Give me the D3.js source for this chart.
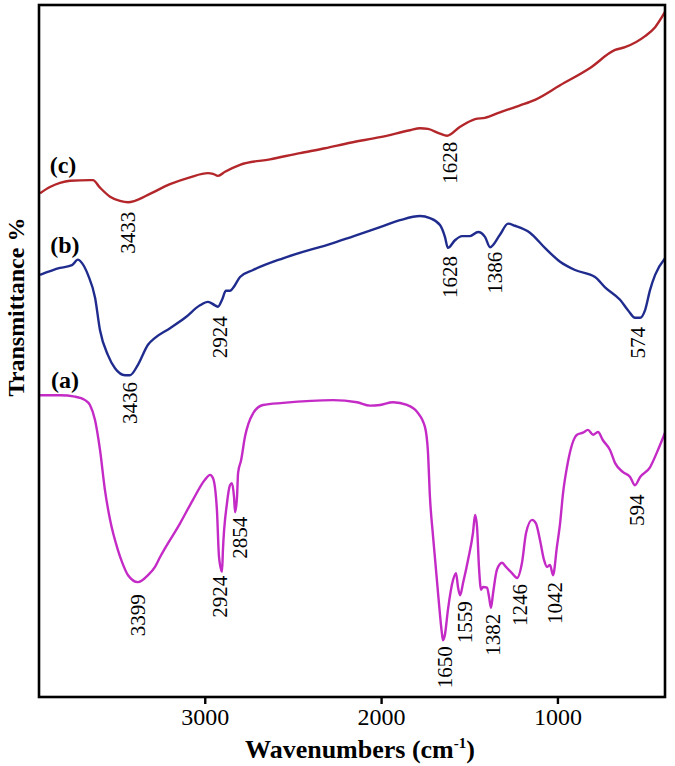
<!DOCTYPE html>
<html>
<head>
<meta charset="utf-8">
<script src="https://cdn.jsdelivr.net/npm/d3@7"></script>
<style>
  body { margin: 0; background: #fff; }
  svg { display: block; font-family: "Liberation Serif", "Times New Roman", serif; }
</style>
</head>
<body>
<svg id="chart" width="675" height="766"></svg>
<script>
// FTIR spectra, values: [wavenumber cm-1, transmittance %]
var seriesA = [
  [3934,43.6],[3821,43.6],[3736,43.4],[3679,42.9],[3651,42.2],[3622,40.0],[3594,35.7],[3566,29.9],
  [3537,25.6],[3492,21.2],[3469,19.5],[3435,17.6],[3379,16.6],[3322,17.6],[3282,18.8],[3254,20.2],
  [3140,25.1],[3067,28.5],[2999,31.4],[2970,32.1],[2953,31.6],[2931,27.0],[2919,20.2],[2902,18.1],
  [2897,21.2],[2874,28.0],[2857,30.6],[2846,30.9],[2834,28.9],[2828,26.7],[2817,28.9],[2811,32.4],
  [2794,34.2],[2772,37.6],[2726,41.0],[2670,42.2],[2556,42.5],[2273,42.9],[2137,42.6],[2063,42.1],
  [2006,42.2],[1932,42.6],[1853,42.2],[1796,41.2],[1751,39.0],[1734,35.3],[1723,28.9],[1706,23.4],
  [1677,15.0],[1655,9.2],[1649,8.2],[1638,9.0],[1621,12.6],[1592,16.9],[1575,17.9],[1564,15.9],
  [1552,14.7],[1535,16.5],[1507,19.8],[1479,23.7],[1467,26.3],[1456,24.6],[1445,18.8],[1433,15.5],
  [1422,15.9],[1399,15.8],[1388,14.5],[1377,12.9],[1365,15.0],[1343,18.4],[1314,19.4],[1292,18.8],
  [1258,17.9],[1229,17.2],[1201,19.4],[1178,23.7],[1144,25.6],[1122,25.1],[1099,22.7],[1076,19.8],
  [1059,18.8],[1042,19.1],[1025,17.6],[1003,21.7],[985,25.1],[968,29.5],[946,33.2],[889,37.9],
  [855,38.2],[827,38.6],[798,37.9],[770,38.3],[742,37.1],[702,35.7],[673,33.8],[628,32.5],
  [588,31.8],[560,30.6],[531,31.8],[475,33.2],[430,35.7],[390,38.2]
];
var seriesB = [
  [3934,61.0],[3821,62.0],[3753,62.4],[3719,63.2],[3696,62.7],[3662,61.0],[3622,57.7],[3594,53.0],
  [3549,49.4],[3509,47.5],[3452,46.5],[3424,46.5],[3379,48.0],[3322,50.9],[3282,51.9],[3197,53.3],
  [3112,54.8],[3027,56.6],[2982,57.1],[2942,56.6],[2925,56.4],[2902,57.4],[2880,58.7],[2857,58.7],
  [2840,59.1],[2800,60.7],[2726,61.7],[2556,63.4],[2273,65.6],[2006,67.9],[1893,68.9],[1779,69.5],
  [1723,69.2],[1666,68.2],[1638,66.5],[1621,64.9],[1581,66.0],[1541,66.6],[1496,66.6],[1450,67.2],
  [1411,66.5],[1382,65.0],[1326,66.8],[1280,68.4],[1241,68.1],[1156,67.1],[1071,64.9],[985,62.9],
  [900,61.7],[787,60.7],[730,59.2],[645,57.4],[600,55.9],[560,54.8],[531,54.8],[503,55.9],
  [475,58.8],[446,61.0],[390,63.4]
];
var seriesC = [
  [3934,72.8],[3878,73.7],[3821,74.3],[3764,74.6],[3651,74.7],[3634,74.7],[3594,73.6],[3537,72.3],
  [3481,71.7],[3435,71.5],[3396,71.7],[3311,72.7],[3197,74.1],[3084,75.1],[2982,75.7],[2953,75.6],
  [2925,75.3],[2885,75.9],[2800,76.9],[2630,77.7],[2460,78.6],[2318,79.3],[2176,80.1],[2006,80.9],
  [1836,81.9],[1779,82.2],[1734,82.1],[1666,81.4],[1626,81.1],[1552,82.4],[1467,83.5],[1411,83.7],
  [1326,84.5],[1212,85.5],[1127,86.3],[985,88.4],[815,90.9],[673,93.5],[617,93.9],[503,95.5],
  [446,96.8],[390,99.0]
];

var seriesNames = ["(a)", "(b)", "(c)"];
var seriesColors = ["#c42ac6", "#1f2c8e", "#b3262a"];
// where the series name sits: [wavenumber, transmittance]
var namePos = [[3793,45.8],[3793,65.3],[3804,76.9]];

// peak labels: [text, wavenumber, transmittance] of the label centre
var peakLabels = [
  ["3433",3435,67.1],["1628",1609,77.2],
  ["3436",3424,42.5],["2924",2914,52.0],["1628",1609,60.7],["1386",1354,61.3],["574",543,51.2],
  ["3399",3379,11.8],["2924",2914,14.5],["2854",2800,23.0],["1650",1638,4.3],["1559",1524,10.8],
  ["1382",1365,9.0],["1246",1212,13.3],["1042",1014,13.6],["594",549,27.0]
];

var xTicks = [3000, 2000, 1000];

var svg = d3.select("#chart"),
    margin = {top: 5, right: 10, bottom: 69, left: 39},
    width = +svg.attr("width") - margin.left - margin.right,
    height = +svg.attr("height") - margin.top - margin.bottom;

var x = d3.scaleLinear().domain([3940, 390]).range([0, width]);
var y = d3.scaleLinear().domain([0, 100]).range([height, 0]);

var g = svg.append("g").attr("transform", "translate(" + margin.left + "," + margin.top + ")");

var line = d3.line()
    .curve(d3.curveMonotoneX)
    .x(function(d) { return x(d[0]); })
    .y(function(d) { return y(d[1]); });

g.selectAll("path.spec")
  .data([seriesA, seriesB, seriesC])
  .enter().append("path")
    .attr("class", "spec")
    .attr("fill", "none")
    .attr("stroke", function(d, i) { return seriesColors[i]; })
    .attr("stroke-width", 2.4)
    .attr("stroke-linejoin", "round")
    .attr("d", line);

g.selectAll("text.name")
  .data(seriesNames)
  .enter().append("text")
    .attr("class", "name")
    .attr("x", function(d, i) { return x(namePos[i][0]); })
    .attr("y", function(d, i) { return y(namePos[i][1]); })
    .attr("text-anchor", "middle")
    .attr("dominant-baseline", "central")
    .style("font-size", "24px")
    .style("font-weight", "bold")
    .text(function(d) { return d; });

g.selectAll("text.peak")
  .data(peakLabels)
  .enter().append("text")
    .attr("class", "peak")
    .attr("transform", function(d) { return "translate(" + x(d[1]) + "," + y(d[2]) + ") rotate(-90)"; })
    .attr("text-anchor", "middle")
    .attr("dominant-baseline", "central")
    .style("font-size", "21px")
    .text(function(d) { return d[0]; });

// frame
g.append("rect")
    .attr("width", width)
    .attr("height", height)
    .attr("fill", "none")
    .attr("stroke", "#000")
    .attr("stroke-width", 2.6);

var xAxis = g.append("g")
    .attr("transform", "translate(0," + height + ")")
    .call(d3.axisBottom(x).tickValues(xTicks).tickSize(7).tickPadding(4).tickFormat(d3.format("d")));
xAxis.select(".domain").remove();
xAxis.selectAll("line").attr("stroke-width", 2.4);
xAxis.selectAll("text")
    .attr("fill", "#000")
    .style("font-family", "'Liberation Serif', serif")
    .style("font-size", "24px");

var xl = svg.append("text")
    .attr("x", 360)
    .attr("y", 758)
    .attr("text-anchor", "middle")
    .style("font-size", "26px")
    .style("font-weight", "bold");
xl.append("tspan").text("Wavenumbers (cm");
xl.append("tspan").attr("dy", -10).style("font-size", "15px").text("-1");
xl.append("tspan").attr("dy", 10).text(")");

svg.append("text")
    .attr("transform", "translate(24,307) rotate(-90)")
    .attr("text-anchor", "middle")
    .style("font-size", "24px")
    .style("font-weight", "bold")
    .text("Transmittance %");
</script>
</body>
</html>
